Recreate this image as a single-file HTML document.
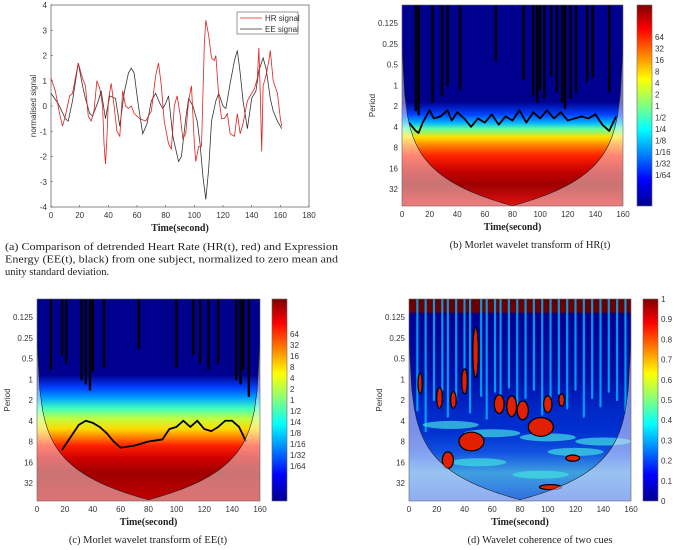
<!DOCTYPE html>
<html><head><meta charset="utf-8"><style>
html,body{margin:0;padding:0;background:#fff;width:675px;height:550px;overflow:hidden}
svg{display:block}
.tk{font-family:"Liberation Sans",sans-serif;font-size:8px;fill:#333}
.xl{font-family:"Liberation Serif",serif;font-size:10px;font-weight:bold;fill:#222}
.cap{font-family:"Liberation Serif",serif;font-size:10.5px;fill:#222}
</style></head><body>
<svg id="root" width="675" height="550" viewBox="0 0 675 550" xmlns="http://www.w3.org/2000/svg">
<defs id="defs"></defs>
</svg>
<script>
// ---- panel (a) data ----
const hrTimes=[0,3,6,8,10,13,15,19,22,24,26,28,30,32,34,36,37,38,39,40,42,44,46,48,50,52,54,56,58,62,66,70,73,75,77,79,82,84,86,88,90,92,94,96,98,100,101,103,105,107,108,110,112,114,115,117,119,121,123,125,128,130,132,134,137,140,142,144,145,146,147,148,150,152,153,155,158,160,161];
const hrValues=[1.1,0.6,-0.3,-0.8,-0.4,0.4,0.5,1.7,1.1,0.8,-0.4,-0.6,-0.2,1,0.7,0,-1.5,-2.3,-1.3,0.2,0.9,0,-1,-1.2,0.6,0,-0.1,0,-0.3,-0.5,-0.6,-0.2,1.2,1.7,0.8,-0.6,-1.5,-1.7,0,0.4,-0.3,-1.3,-1.1,0.2,0.8,-1.5,-2.2,-1.6,-1.6,2.5,3.4,2.8,1.9,1.8,2,0.4,-0.5,-0.5,-0.3,-1.1,-1.2,-0.3,-1.1,-0.7,0.2,0.5,0.7,1.1,2.3,0.5,-1.8,0.8,1.2,1.8,2.2,1,0.5,-0.5,-0.8];
const eeTimes=[0,5,10,12,15,19,22,24,27,29,33,35,38,41,45,48,51,54,56,58,61,64,67,70,73,76,78,80,82,85,89,91,94,96,99,102,104,106,108,110,112,115,117,120,122,125,128,130,132,134,137,140,143,145,148,150,153,155,158,161];
const eeValues=[0.5,0.1,-0.5,-0.6,0.2,1.7,0.8,0.3,-0.3,-0.4,0.2,0.6,-0.5,0.4,0.3,-0.8,0.5,1.3,1.5,1.3,0,-1.1,-0.7,0.2,0.5,0.1,-0.1,0.1,0.4,-1.2,-2.2,-2,-0.5,0.3,0,-0.6,-1.5,-2.8,-3.7,-2.5,-0.6,0.2,0.5,0,-0.1,0.9,1.8,2.2,1.3,0.2,-0.9,0.3,0.6,1.4,1.9,1.5,0.3,-0.2,-0.6,-0.9];
const aXTicks=[0,20,40,60,80,100,120,140,160,180];
const aYTicks=[-4,-3,-2,-1,0,1,2,3,4];
// ---- wavelet panels data (log2 period) ----
const periodTicks=[-3,-2,-1,0,1,2,3,4,5];
const periodLabels=["0.125","0.25","0.5","1","2","4","8","16","32"];
const timeTicks=[0,20,40,60,80,100,120,140,160];
const powerLabels=["64","32","16","8","4","2","1","1/2","1/4","1/8","1/16","1/32","1/64"];
const cohLabels=["0","0.1","0.2","0.3","0.4","0.5","0.6","0.7","0.8","0.9","1"];
const bStopLevels=[-4,0.8,1.4,1.8,2.1,2.5,2.9,3.4,4.2,4.8,5.8];
const bStopColors=["#00008f","#00008f","#0040ff","#00b0ff","#60ffa0","#ffe000","#ff8000","#ff2000","#c00000","#a00000","#e01010"];
const bContourTimes=[5,10,12,15,20,23,28,33,36,40,45,50,55,60,65,70,75,80,85,90,95,100,105,110,115,120,125,130,135,140,145,150,155];
const bContourLevels=[1.8,2.2,2.3,1.8,1.2,1.6,1.5,1.2,1.7,1.3,1.6,2,1.6,1.8,1.4,1.9,1.5,1.7,1.2,1.8,1.3,1.6,1.2,1.6,1.3,1.7,1.6,1.5,1.6,1.4,1.9,2.2,1.5];
const bStreakTimes=[10,12,22,29,33,42,68,88,95,98,100,103,108,112,116,118,122,126,134,138,150];
const bStreakEnds=[1.2,1.4,0.8,0.5,0,0.2,-1.2,-0.3,0.5,0.8,0.2,0.6,-0.5,0.3,0.8,1.1,0.6,0.3,-0.2,-0.4,0.3];
const cStopLevels=[-4,-0.2,0.4,0.9,1.4,1.9,2.4,2.8,3.2,3.8,4.5,5.8];
const cStopColors=["#00008f","#00008f","#0040ff","#00a0ff","#40ffc0","#c0ff40","#ffd800","#ff8000","#ff2000","#d00000","#a00000","#c00000"];
const cContourTimes=[18,22,25,30,35,40,45,50,55,60,70,80,90,95,100,105,110,115,120,125,130,135,140,145,150];
const cContourLevels=[3.4,3.0,2.7,2.2,2.0,2.1,2.3,2.6,3.0,3.3,3.2,3.0,2.9,2.4,2.3,2.0,2.3,2.0,2.4,2.5,2.3,2.0,2.0,2.3,3.0];
const cStreakTimes=[10,18,21,32,35,38,40,48,73,100,112,117,123,130,143,146,148,152];
const cStreakEnds=[-0.5,-1.2,-0.8,0,0.2,0.5,-0.4,-0.6,-1.5,-0.6,-1.2,-0.8,-0.5,-0.8,0,0.2,-0.5,0.8];
const dStreakTimes=[6,12,18,24,28,34,40,44,52,56,62,66,72,78,84,90,96,102,108,114,120,126,132,138,144,150,156];
const dStreakEnds=[1.5,2.5,1.0,0.5,1.8,1.0,0.3,1.6,0.8,1.9,0.6,1.2,0.4,1.5,0.9,0.5,1.7,1.1,0.7,1.4,0.5,1.8,0.9,1.3,0.6,1.0,1.5];
const dBandTimes=[30,60,100,120,50,95,140];
const dBandLevels=[2.2,2.6,2.8,3.5,4.0,4.6,3.0];
const dBlobTimes=[8,22,32,40,48,65,74,82,100,110,45,95,118,28,102];
const dBlobLevels=[0.2,0.9,1.0,0.1,-1.3,1.2,1.3,1.5,1.2,1.0,3.0,2.3,3.8,3.9,5.2];
const dBlobRx=[1.5,2,2,2,2,3.5,3.5,4,3,2,9,9,5,4,8];
const dBlobRy=[0.5,0.5,0.4,0.6,1.2,0.45,0.5,0.45,0.4,0.3,0.45,0.45,0.15,0.4,0.12];

const NS="http://www.w3.org/2000/svg";
const root=document.getElementById('root');
const defs=document.getElementById('defs');
function mk(tag,attrs,parent){const e=document.createElementNS(NS,tag);for(const k in attrs)e.setAttribute(k,attrs[k]);(parent||root).appendChild(e);return e;}
function txt(s,x,y,cls,anchor,parent){const t=mk('text',{x:x,y:y,class:cls,'text-anchor':anchor||'start'},parent);t.textContent=s;return t;}

// ---------- Panel A ----------
const A={x0:51,x1:309,y0:5,y1:207};
const ax=t=>A.x0+(t/180)*(A.x1-A.x0);
const ay=v=>A.y0+(4-v)/8*(A.y1-A.y0);
let r=mk('rect',{x:A.x0,y:A.y0,width:A.x1-A.x0,height:A.y1-A.y0,fill:'#fff',stroke:'#555','stroke-width':0.7});


aXTicks.forEach(t=>{const l=txt(String(t),ax(t),218,'tk','middle');


mk('line',{x1:ax(t),x2:ax(t),y1:A.y1,y2:A.y1-2,stroke:'#555','stroke-width':0.6});});
aYTicks.forEach(v=>{const l=txt(String(v),A.x0-4,ay(v)+3,'tk','end');


mk('line',{x1:A.x0,x2:A.x0+2,y1:ay(v),y2:ay(v),stroke:'#555','stroke-width':0.6});});
let xt=txt('Time(second)',180,231,'xl','middle');


let yt=txt('normalised signal',0,0,'tk','middle');
yt.setAttribute('transform','translate(36,106) rotate(-90)');


let eeL=mk('polyline',{points:eeTimes.map((t,i)=>ax(t)+','+ay(eeValues[i])).join(' '),fill:'none',stroke:'#333','stroke-width':0.8});


let hrL=mk('polyline',{points:hrTimes.map((t,i)=>ax(t)+','+ay(hrValues[i])).join(' '),fill:'none',stroke:'#e02020','stroke-width':0.8});


let lg=mk('g',{});


mk('rect',{x:237,y:12,width:61,height:22,fill:'#fff',stroke:'#555','stroke-width':0.6},lg);
mk('line',{x1:240,x2:262,y1:18,y2:18,stroke:'#e02020','stroke-width':0.8},lg);
mk('line',{x1:240,x2:262,y1:29,y2:29,stroke:'#333','stroke-width':0.8},lg);
let le1=txt('HR signal',265,21,'tk','start',lg);


let le2=txt('EE signal',265,32,'tk','start',lg);


const capLines=["(a) Comparison of detrended Heart Rate (HR(t), red) and Expression","Energy (EE(t), black) from one subject, normalized to zero mean and","unity standard deviation."];
capLines.forEach((s,i)=>{const c=txt(s,5,250+i*12.5,'cap');
c.setAttribute('font-size','10');
if(i<2){c.setAttribute('textLength','333');c.setAttribute('lengthAdjust','spacingAndGlyphs');}

});

// ---------- wavelet helper ----------
function wavelet(P){
  const sx=t=>P.x0+t/160*(P.x1-P.x0);
  const sy=l=>P.yt+(l+3)*20.75;
  const id=P.id;
  const cp=mk('clipPath',{id:'clip'+id},defs);
  mk('rect',{x:P.x0,y:P.y0,width:P.x1-P.x0,height:P.y1-P.y0},cp);
  const g=mk('g',{'clip-path':'url(#clip'+id+')'});
  
  
  const lgd=mk('linearGradient',{id:'grad'+id,x1:0,x2:0,y1:sy(P.stops[0]),y2:sy(P.stops[P.stops.length-1]),gradientUnits:'userSpaceOnUse'},defs);
  P.stops.forEach((s,i)=>mk('stop',{offset:(s-P.stops[0])/(P.stops[P.stops.length-1]-P.stops[0]),'stop-color':P.colors[i]},lgd));
  mk('rect',{x:P.x0,y:P.y0,width:P.x1-P.x0,height:P.y1-P.y0,fill:'url(#grad'+id+')'},g);
  P.draw && P.draw(g,sx,sy);
  // cone of influence
  let pts=[];for(let t=0;t<=160;t+=2){const m=Math.max(0.4,Math.min(t,160-t));pts.push([sx(t),sy(Math.log2(0.7*m))]);}
  const coi=pts.map(p=>p.join(',')).join(' L');
  let sh=mk('path',{d:'M'+P.x0+','+P.y0+' L'+coi+' L'+P.x1+','+P.y0+' L'+P.x1+','+P.y1+' L'+P.x0+','+P.y1+' Z',fill:P.coiFill||'#fff','fill-opacity':P.coiOp||0.45,'fill-rule':'evenodd'},g);
  
  
  mk('path',{d:'M'+coi,fill:'none',stroke:'#222','stroke-width':0.6},g);
  mk('rect',{x:P.x0,y:P.y0,width:P.x1-P.x0,height:P.y1-P.y0,fill:'none',stroke:'#666','stroke-width':0.6});
  periodTicks.forEach((l,i)=>{const t=txt(periodLabels[i],P.x0-4,sy(l)+3,'tk','end');
  
  });
  timeTicks.forEach(t=>{const l=txt(String(t),sx(t),P.y1+11,'tk','middle');
  
  });
  const xl=txt('Time(second)',(P.x0+P.x1)/2,P.y1+24,'xl','middle');
  
  
  const yl=txt('Period',0,0,'tk','middle');
  yl.setAttribute('transform','translate('+(P.x0-27)+','+((P.y0+P.y1)/2)+') rotate(-90)');
  yl.setAttribute('font-size','9');
  
  
  const cg=mk('linearGradient',{id:'cb'+id,x1:0,x2:0,y1:0,y2:1},defs);
  [["0","#800000"],["0.12","#ff0000"],["0.37","#ffff00"],["0.5","#80ff80"],["0.62","#00ffff"],["0.87","#0000ff"],["1","#00008f"]].forEach(s=>mk('stop',{offset:s[0],'stop-color':s[1]},cg));
  const cb=mk('rect',{x:P.cx,y:P.y0,width:15,height:P.y1-P.y0,fill:'url(#cb'+id+')',stroke:'#666','stroke-width':0.6});
  
  
  P.cbLabels.forEach((s,i)=>{const t=txt(s,P.cx+18,P.cbY(i)+3,'tk','start');
  
  });
  const cap=txt(P.caption,P.capX,P.y1+42,'cap','middle');
  
  
}
function contour(g,sx,sy,times,levels){
  const l=mk('polyline',{points:times.map((t,i)=>sx(t)+','+sy(levels[i])).join(' '),fill:'none',stroke:'#000','stroke-width':1.8,'stroke-linejoin':'round'},g);
  
  
}
function streaks(g,sx,sy,times,ends,col,w,op){
  times.forEach((t,i)=>{const s=mk('line',{x1:sx(t),x2:sx(t),y1:sy(-4),y2:sy(ends[i]),stroke:col,'stroke-width':w,'stroke-linecap':'round','stroke-opacity':op||1},g);
  
  });
}

wavelet({id:'b',name:'hr-wavelet-heatmap',x0:402,x1:623,y0:5,y1:206,yt:23,cx:637,stops:bStopLevels,colors:bStopColors,
 draw:(g,sx,sy)=>{streaks(g,sx,sy,bStreakTimes,bStreakEnds,'#000',2.4);contour(g,sx,sy,bContourTimes,bContourLevels);},
 cbLabels:powerLabels,cbY:i=>37+i*11.5,caption:'(b) Morlet wavelet transform of HR(t)',capX:530});
wavelet({id:'c',name:'ee-wavelet-heatmap',x0:37,x1:260,y0:299,y1:501,yt:317,cx:272,stops:cStopLevels,colors:cStopColors,
 draw:(g,sx,sy)=>{streaks(g,sx,sy,cStreakTimes,cStreakEnds,'#000',2.4);contour(g,sx,sy,cContourTimes,cContourLevels);},
 cbLabels:powerLabels,cbY:i=>334+i*11,caption:'(c) Morlet wavelet transform of EE(t)',capX:148});
wavelet({id:'d',name:'coherence-heatmap',x0:409,x1:631,y0:299,y1:501,yt:317,cx:643,coiOp:0.55,coiFill:'#e0e0ff',
 stops:[-4,-3.3,-3.1,0,1.5,2.5,3.5,4.5,5.8],colors:["#600000","#700000","#000090","#0010a8","#0028c8","#0030d0","#1050e0","#40a0e0","#3070e0"],
 draw:(g,sx,sy)=>{
   streaks(g,sx,sy,dStreakTimes,dStreakEnds,'#00b0ff',2.2,0.85);
   dBandTimes.forEach((t,i)=>{const e=mk('ellipse',{cx:sx(t),cy:sy(dBandLevels[i]),rx:28,ry:4,fill:'#40e0e0','fill-opacity':0.7},g);
   
   });
   dBlobTimes.forEach((t,i)=>{const e=mk('ellipse',{cx:sx(t),cy:sy(dBlobLevels[i]),rx:dBlobRx[i]*(222/160),ry:dBlobRy[i]*20.75,fill:'#e02000',stroke:'#000','stroke-width':1.2},g);
   
   });
 },
 cbLabels:cohLabels,cbY:i=>501-i*20.2,caption:'(d) Wavelet coherence of two cues',capX:540});
</script>
</body></html>
